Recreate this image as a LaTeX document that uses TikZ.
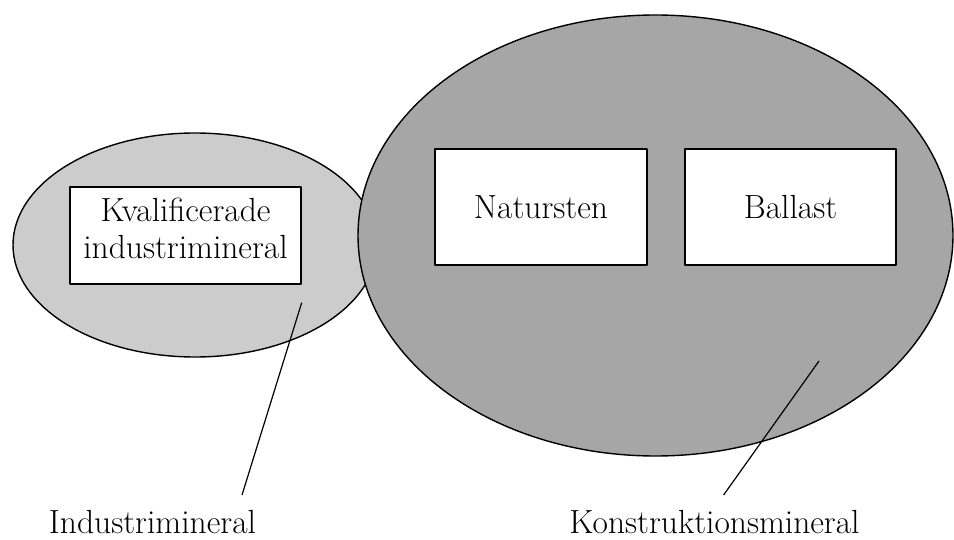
\documentclass[tikz,border=0pt]{standalone}
\usepackage{fontspec}
\usepackage{tikz}
\usetikzlibrary{arrows.meta}

\definecolor{lightgrey}{HTML}{CCCCCC}
\definecolor{midgrey}{HTML}{A6A6A6}

\begin{document}
\begin{tikzpicture}[x=1pt, y=-1pt, line join=round,
  box/.style={draw, line width=1.6pt, fill=white, inner sep=0pt},
  txt/.style={inner sep=0pt, align=center, font=\fontsize{33.5}{37}\selectfont},
  lbl/.style={inner sep=0pt, anchor=base, font=\fontsize{33.5}{37}\selectfont},
  leader/.style={line width=1.2pt}]

  %% ════ 椭圆（小的先画，大的压在上面）════
  \filldraw[fill=lightgrey, line width=1.4pt] (195,245) ellipse [x radius=182, y radius=112];
  \filldraw[fill=midgrey, line width=1.4pt] (655.5,235.5) ellipse [x radius=297.5, y radius=220.5];

  %% ════ 方框 ════
  \node[box, minimum width=231pt, minimum height=97pt] (kval) at (185.5,235.5) {};
  \node[txt] (kvaltxt) at ([yshift=7pt]kval.center) {Kvalificerade\\industrimineral};
  \node[box, txt, minimum width=212pt, minimum height=116pt] (natur) at (541,207) {Natursten};
  \node[box, txt, minimum width=211pt, minimum height=116pt] (ballast) at (790.5,207) {Ballast};

  %% ════ 引线 + 标签 ════
  \coordinate (indpt) at (301.7,302.7);
  \coordinate (indend) at (242,495);
  \coordinate (konpt) at (819,361);
  \coordinate (konend) at (723.6,495);
  \draw[leader] (indpt) -- (indend);
  \draw[leader] (konpt) -- (konend);

  \node[lbl] (ind) at (152.5,533) {Industrimineral};
  \node[lbl] (kon) at (714.5,533) {Konstruktionsmineral};

  % 钉死画布
  \pgfresetboundingbox
  \path[use as bounding box] (0,0) rectangle (954,540);
\end{tikzpicture}
\end{document}
